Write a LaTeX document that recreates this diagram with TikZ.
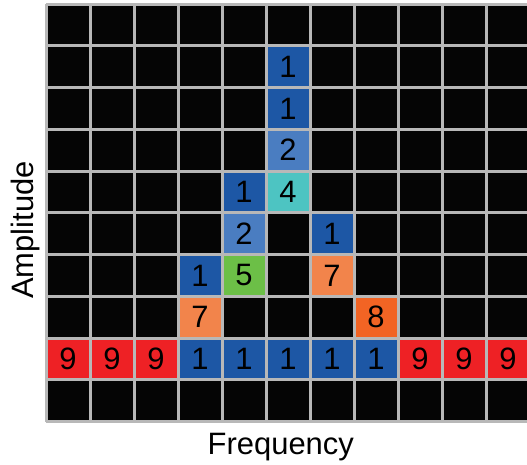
\documentclass[tikz,border=0pt]{standalone}
\usepackage{fontspec}
\setmainfont{Liberation Sans}
\definecolor{gridGray}{HTML}{B8B8B8}
\definecolor{blueDark}{HTML}{1D57A5}
\definecolor{blueLight}{HTML}{4A7DC1}
\definecolor{tealCell}{HTML}{4DC4C2}
\definecolor{greenCell}{HTML}{6CBF47}
\definecolor{orangeLight}{HTML}{F2844B}
\definecolor{orangeDark}{HTML}{F26424}
\definecolor{redCell}{HTML}{EE2125}
\begin{document}
\begin{tikzpicture}
        [x=0.88cm, y=0.8354cm,
        gridLine/.style={draw=gridGray, line width=0.06cm, xstep=0.88cm, ystep=0.8354cm},
        cell/.style={rectangle, draw=gridGray, line width=0.06cm, minimum width=0.88cm, minimum height=0.8354cm, inner sep=0pt, font=\fontsize{17.6}{20}\selectfont},
        cellBlue/.style={cell, fill=blueDark},
        cellLight/.style={cell, fill=blueLight},
        cellTeal/.style={cell, fill=tealCell},
        cellGreen/.style={cell, fill=greenCell},
        cellOrange/.style={cell, fill=orangeLight},
        cellDeep/.style={cell, fill=orangeDark},
        cellRed/.style={cell, fill=redCell},
        axisLabel/.style={font=\fontsize{17.6}{20}\selectfont, anchor=base}]
        \clip (-0.92cm,-0.866cm) rectangle (9.62cm,8.434cm);
        \fill[white] (-0.92cm,-0.866cm) rectangle (9.62cm,8.434cm);
        \fill[black!98] (0,0) rectangle (11,10);
        \draw[gridLine] (0,0) grid (11,10);

        % peak column
        \node[cellBlue] (r2c6) at (5.5,8.5) {1};
        \node[cellBlue] (r3c6) at (5.5,7.5) {1};
        \node[cellLight] (r4c6) at (5.5,6.5) {2};
        \node[cellBlue] (r5c5) at (4.5,5.5) {1};
        \node[cellTeal] (r5c6) at (5.5,5.5) {4};
        \node[cellLight] (r6c5) at (4.5,4.5) {2};
        \node[cellBlue] (r6c7) at (6.5,4.5) {1};
        \node[cellBlue] (r7c4) at (3.5,3.5) {1};
        \node[cellGreen] (r7c5) at (4.5,3.5) {5};
        \node[cellOrange] (r7c7) at (6.5,3.5) {7};
        \node[cellOrange] (r8c4) at (3.5,2.5) {7};
        \node[cellDeep] (r8c8) at (7.5,2.5) {8};

        % base row
        \foreach \c in {1,2,3,9,10,11}
            \node[cellRed] (r9c\c) at (\c-0.5,1.5) {9};
        \foreach \c in {4,...,8}
            \node[cellBlue] (r9c\c) at (\c-0.5,1.5) {1};

        \node[axisLabel, rotate=90] (amp) at (-0.26cm,3.834cm) {Amplitude};
        \node[axisLabel] (freq) at (4.696cm,-0.666cm) {Frequency};
    \end{tikzpicture}
\end{document}
